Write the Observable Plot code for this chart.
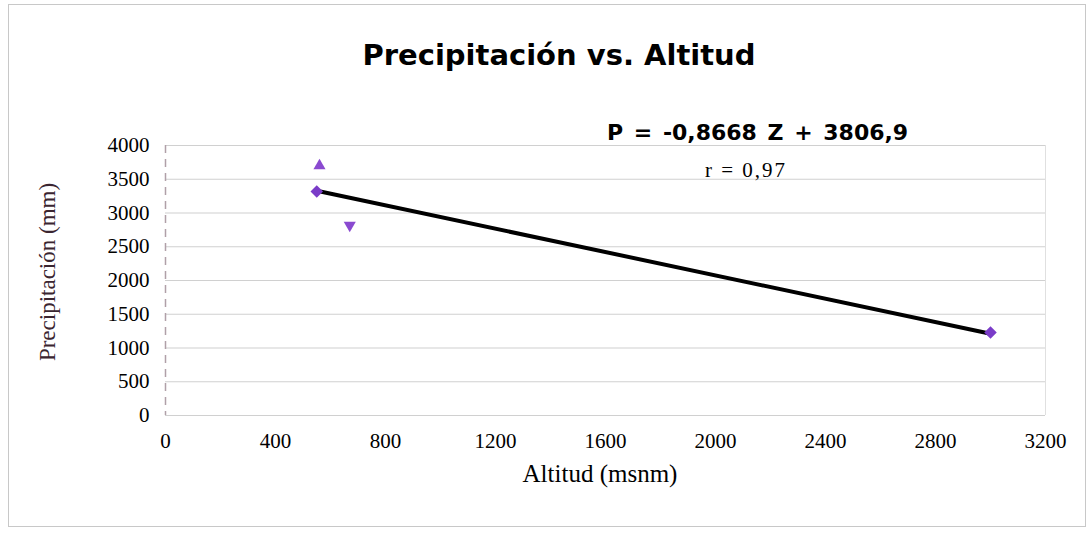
<!DOCTYPE html>
<html><head><meta charset="utf-8">
<script src="https://cdn.jsdelivr.net/npm/d3@7"></script>
<script src="https://cdn.jsdelivr.net/npm/@observablehq/plot@0.6"></script>
<style>
body{margin:0;background:#fff;}
#wrap{position:relative;width:1092px;height:537px;overflow:hidden;background:#fff;}
#frame{position:absolute;left:8px;top:4px;width:1076px;height:521px;border:1px solid #c8c8c8;}
.t{position:absolute;white-space:nowrap;color:#000;line-height:1;}
</style></head>
<body>
<div id="wrap">
<div id="frame"></div>
<div id="chart" style="position:absolute;left:0;top:0"></div>
<div class="t" style="left:0;width:1118px;text-align:center;top:38px;font:bold 29px Verdana,'DejaVu Sans',sans-serif;">Precipitación vs. Altitud</div>
<div class="t" style="left:607px;top:120px;font:bold 22px Verdana,'DejaVu Sans',sans-serif;word-spacing:3px;">P = -0,8668 Z + 3806,9</div>
<div class="t" style="left:705px;top:158px;font:21px 'Liberation Serif','Times New Roman',serif;letter-spacing:2px;">r = 0,97</div>
<div class="t" style="left:0;width:1200px;text-align:center;top:460px;font:25px 'Liberation Serif','Times New Roman',serif;">Altitud (msnm)</div>
<div class="t" style="left:48px;top:272px;transform:translate(-50%,-50%) rotate(-90deg);font:23px 'Liberation Serif','Times New Roman',serif;color:#3a2530;">Precipitación (mm)</div>
</div>
<script>
const xTicks = [0, 400, 800, 1200, 1600, 2000, 2400, 2800, 3200];
const yTicks = [0, 500, 1000, 1500, 2000, 2500, 3000, 3500, 4000];
const altitud = [550, 3000];
const precip = [3320, 1230];
const upAlt = [560];
const upPrecip = [3700];
const downAlt = [670];
const downPrecip = [2820];
const lineAlt = [550, 3000];
const linePrecip = [3330, 1210];

const pts = altitud.map((a, i) => ({a, p: precip[i]}));
const ups = upAlt.map((a, i) => ({a, p: upPrecip[i]}));
const downs = downAlt.map((a, i) => ({a, p: downPrecip[i]}));
const fit = lineAlt.map((a, i) => ({a, p: linePrecip[i]}));
const fmt = d => String(d);

const plot = Plot.plot({
  width: 1092, height: 537,
  marginLeft: 165, marginRight: 47, marginTop: 145, marginBottom: 122,
  style: {background: "transparent", fontFamily: "'Liberation Serif','Times New Roman',serif", fontSize: "21px", color: "#000"},
  x: {domain: [0, 3200], label: null},
  y: {domain: [0, 4000], label: null},
  marks: [
    Plot.gridY(yTicks, {stroke: "#d0d0d0", strokeOpacity: 1, strokeWidth: 1.2}),
    Plot.ruleX([0], {stroke: "#b0a0a8", strokeWidth: 1.5, strokeDasharray: "8,6"}),
    Plot.ruleX([3200], {stroke: "#e0e0e0", y1: 0, y2: 4000}),
    Plot.line(fit, {x: "a", y: "p", stroke: "#000", strokeWidth: 4}),
    Plot.dot(pts, {x: "a", y: "p", symbol: "square", rotate: 45, r: 5, fill: "#7a3cc8", stroke: "none"}),
    Plot.dot(ups, {x: "a", y: "p", symbol: "triangle", r: 4.5, fill: "#8a4ad0", stroke: "none"}),
    Plot.dot(downs, {x: "a", y: "p", symbol: "triangle", rotate: 180, r: 4.5, fill: "#8a4ad0", stroke: "none"}),
    Plot.axisX(xTicks, {tickSize: 0, tickPadding: 18, fontSize: 21, tickFormat: fmt, label: null}),
    Plot.axisY(yTicks, {tickSize: 0, tickPadding: 16, fontSize: 21, tickFormat: fmt, label: null})
  ]
});
document.getElementById("chart").appendChild(plot);
</script>
</body></html>
